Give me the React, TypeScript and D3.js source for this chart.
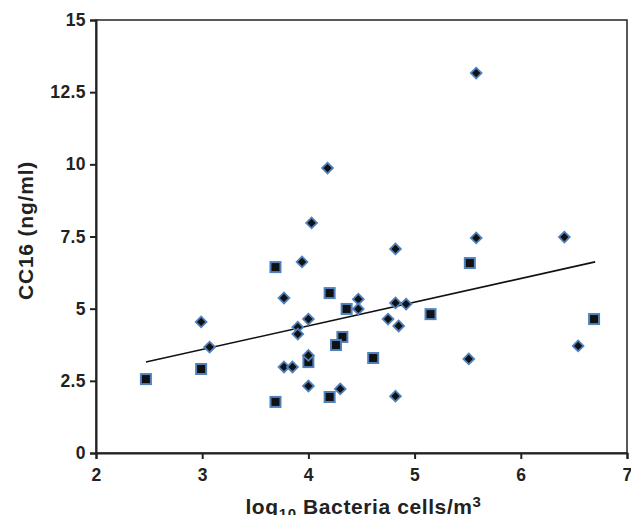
import React, { useEffect, useRef } from 'react';
import * as d3 from 'd3';

// diamond series (x = log10 bacteria, y = CC16)
const diamondX = [5.58, 4.18, 4.03, 3.94, 4.82, 5.58, 6.41, 3.77, 2.99, 3.07, 4.0, 3.9, 3.9, 3.77, 3.85, 4.0, 4.0, 4.47, 4.47, 4.82, 4.92, 4.75, 4.85, 5.51, 6.54, 4.3, 4.82];
const diamondY = [13.16, 9.87, 7.97, 6.62, 7.07, 7.45, 7.48, 5.37, 4.54, 3.67, 4.64, 4.36, 4.12, 2.98, 2.98, 3.38, 2.32, 5.33, 4.99, 5.2, 5.16, 4.64, 4.4, 3.26, 3.71, 2.22, 1.97];

// square series
const squareX = [3.69, 2.47, 2.99, 4.0, 3.69, 4.2, 4.36, 5.15, 4.32, 4.26, 4.61, 6.69, 4.2, 5.52];
const squareY = [6.44, 2.56, 2.91, 3.15, 1.77, 5.54, 4.99, 4.81, 4.02, 3.74, 3.29, 4.64, 1.94, 6.58];

// linear trend line endpoints
const trendX = [2.47, 6.7];
const trendY = [3.15, 6.62];

const xTicks = [2, 3, 4, 5, 6, 7];
const yTicks = [0, 2.5, 5, 7.5, 10, 12.5, 15];

const App = () => {
    const svgRef = useRef<SVGSVGElement>(null);

    useEffect(() => {
        const svg = d3.select(svgRef.current);
        svg.selectAll('*').remove();

        const margin = { top: 20, right: 12, bottom: 70, left: 96 };
        const width = 639;
        const height = 523;
        const w = width - margin.left - margin.right;
        const h = height - margin.top - margin.bottom;
        const font = 'Liberation Sans, Arial, sans-serif';
        const blue = '#4f81bd';

        const x = d3.scaleLinear().domain([2, 7]).range([0, w]);
        const y = d3.scaleLinear().domain([0, 15]).range([h, 0]);

        const g = svg.append('g').attr('transform', `translate(${margin.left},${margin.top})`);

        // frame
        g.append('rect')
            .attr('x', 0).attr('y', 0).attr('width', w).attr('height', h)
            .attr('fill', 'none').attr('stroke', '#222').attr('stroke-width', 1.5);

        // axes
        const xAxis = g.append('g')
            .attr('transform', `translate(0,${h})`)
            .call(d3.axisBottom(x).tickValues(xTicks).tickSize(6).tickPadding(10).tickFormat(d3.format('d')));
        const yAxis = g.append('g')
            .call(d3.axisLeft(y).tickValues(yTicks).tickSize(6).tickPadding(4).tickFormat((d: any) => String(d)));

        [xAxis, yAxis].forEach(ax => {
            ax.attr('font-family', font).attr('font-size', 17.5).attr('font-weight', 'bold');
            ax.select('.domain').attr('stroke', '#222').attr('stroke-width', 2);
            ax.selectAll('line').attr('stroke', '#222').attr('stroke-width', 2);
            ax.selectAll('text').attr('fill', '#222').attr('letter-spacing', 0.4);
        });

        // trend line
        g.append('path')
            .datum(trendX.map((v, i) => [v, trendY[i]]))
            .attr('d', d3.line<number[]>().x(d => x(d[0])).y(d => y(d[1])))
            .attr('fill', 'none')
            .attr('stroke', '#111')
            .attr('stroke-width', 1.6);

        // squares
        g.selectAll('.sq')
            .data(squareX.map((v, i) => [v, squareY[i]]))
            .enter()
            .append('rect')
            .attr('class', 'sq')
            .attr('x', d => x(d[0]) - 5)
            .attr('y', d => y(d[1]) - 5)
            .attr('width', 10)
            .attr('height', 10)
            .attr('fill', '#111')
            .attr('stroke', blue)
            .attr('stroke-width', 2);

        // diamonds
        const diamond = d3.symbol().type(d3.symbolSquare).size(58);
        g.selectAll('.dm')
            .data(diamondX.map((v, i) => [v, diamondY[i]]))
            .enter()
            .append('path')
            .attr('class', 'dm')
            .attr('d', diamond)
            .attr('transform', d => `translate(${x(d[0])},${y(d[1])}) rotate(45)`)
            .attr('fill', '#111')
            .attr('stroke', blue)
            .attr('stroke-width', 1.8);

        // y title
        svg.append('text')
            .attr('transform', `translate(33,${margin.top + h / 2 - 6}) rotate(-90)`)
            .attr('text-anchor', 'middle')
            .attr('font-family', font)
            .attr('font-size', 21)
            .attr('font-weight', 'bold')
            .attr('letter-spacing', 0.8)
            .attr('fill', '#222')
            .text('CC16 (ng/ml)');

        // x title with subscript/superscript
        const xt = svg.append('text')
            .attr('x', margin.left + w / 2 + 2)
            .attr('y', 514)
            .attr('text-anchor', 'middle')
            .attr('font-family', font)
            .attr('font-size', 21)
            .attr('font-weight', 'bold')
            .attr('letter-spacing', 0.6)
            .attr('fill', '#222');
        xt.append('tspan').text('log');
        xt.append('tspan').attr('dy', 5).attr('font-size', 15).text('10');
        xt.append('tspan').attr('dy', -5).text(' Bacteria cells/m');
        xt.append('tspan').attr('dy', -7).attr('font-size', 15).text('3');
    }, []);

    return <svg ref={svgRef} width={639} height={523} style={{ display: 'block', margin: '-8px' }} />;
};

export default App;
